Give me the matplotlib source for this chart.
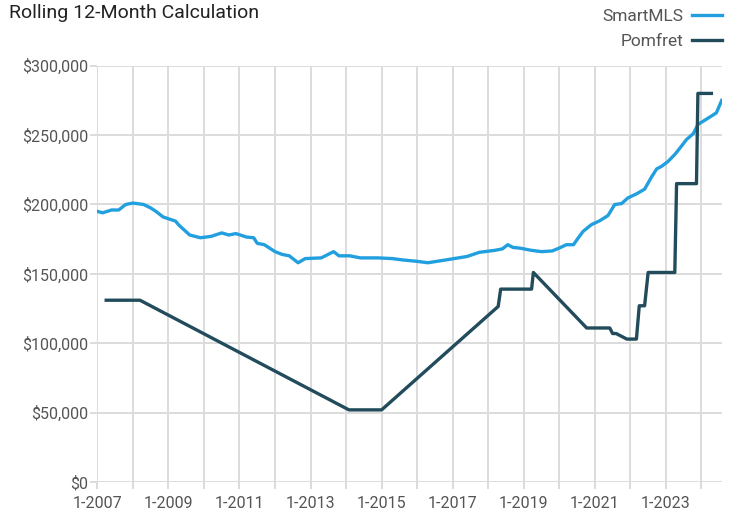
import matplotlib
matplotlib.use("Agg")
import matplotlib.pyplot as plt
from matplotlib.ticker import FuncFormatter, MultipleLocator

plt.rcParams['font.family'] = ['Roboto', 'DejaVu Sans']

# SmartMLS rolling 12-month median (decimal year, $ thousands)
smart_years = [2007.0, 2007.15, 2007.4, 2007.6, 2007.8, 2008.0, 2008.3, 2008.5, 2008.65, 2008.85,
               2009.2, 2009.3, 2009.6, 2009.9, 2010.2, 2010.5, 2010.7, 2010.9, 2011.2, 2011.4,
               2011.5, 2011.7, 2012.0, 2012.2, 2012.4, 2012.65, 2012.85, 2013.3, 2013.65, 2013.8,
               2014.1, 2014.4, 2014.9, 2015.3, 2015.6, 2016.0, 2016.3, 2016.8, 2017.4, 2017.75,
               2018.2, 2018.4, 2018.55, 2018.7, 2018.9, 2019.2, 2019.5, 2019.8, 2020.0, 2020.2,
               2020.4, 2020.53, 2020.67, 2020.9, 2021.14, 2021.37, 2021.56, 2021.75, 2021.93, 2022.17,
               2022.4, 2022.6, 2022.74, 2022.88, 2023.06, 2023.25, 2023.4, 2023.58, 2023.77, 2023.9,
               2024.05, 2024.2, 2024.42, 2024.57]
smart_vals = [195, 194, 196, 196, 200, 201, 200, 197.5, 195, 191,
              188, 185, 178, 176, 177, 179.5, 178, 179, 176.5, 176,
              172, 171, 166, 164, 163, 158, 161, 161.5, 166, 163,
              163, 161.5, 161.5, 161, 160, 159, 158, 160, 162.5, 165.5,
              167, 168, 171, 169, 168.5, 167, 166, 166.5, 168.6, 171,
              171, 175.8, 180.6, 185.4, 188.3, 192, 200, 200.6, 204.7, 207.6,
              211, 220, 225.6, 227.5, 231, 236, 240.8, 246.8, 251, 257.6,
              260, 262.4, 266, 275]

# Pomfret rolling 12-month median
pom_years = [2007.25, 2008.2, 2014.08, 2015.0, 2018.28, 2018.35, 2019.22, 2019.27, 2020.77, 2021.42,
             2021.5, 2021.6, 2021.9, 2022.17, 2022.25, 2022.4, 2022.5, 2023.25, 2023.3, 2023.86,
             2023.9, 2024.28]
pom_vals = [131, 131, 52, 52, 126.5, 139, 139, 151, 111, 111,
            107, 107, 103, 103, 127, 127, 151, 151, 215, 215,
            280, 280]

fig = plt.figure(figsize=(7.29, 5.15), dpi=100)
ax = fig.add_axes([0.1335, 0.064, 0.8565, 0.8085])

ax.plot(smart_years, [v * 1000 for v in smart_vals], color='#229fdf', lw=2.4, label='SmartMLS',
        solid_joinstyle='round', zorder=3)
ax.plot(pom_years, [v * 1000 for v in pom_vals], color='#224b5b', lw=2.4, label='Pomfret',
        solid_joinstyle='round', zorder=3)

ax.set_xlim(2007.0, 2024.57)
ax.set_ylim(0, 300000)
ax.xaxis.set_major_locator(MultipleLocator(1))
ax.xaxis.set_major_formatter(FuncFormatter(
    lambda x, p: '1-%d' % round(x) if round(x) % 2 == 1 else ''))
ax.yaxis.set_major_locator(MultipleLocator(50000))
ax.yaxis.set_major_formatter(FuncFormatter(lambda y, p: '${:,.0f}'.format(y)))

ax.grid(True, color='#dcdcdc', lw=1.4)
ax.set_axisbelow(True)
for s in ax.spines.values():
    s.set_visible(False)
ax.tick_params(axis='both', length=5, width=1.4, color='#dcdcdc',
               labelsize=11.5, labelcolor='#555555')
ax.tick_params(axis='x', pad=5)
ax.tick_params(axis='y', pad=1.5)

fig.legend(loc='upper right', bbox_to_anchor=(722 / 729, 1 - 9 / 515), frameon=False,
           markerfirst=False, fontsize=12.5, handlelength=1.75, handletextpad=0.5,
           labelspacing=0.55, borderaxespad=0, borderpad=0, labelcolor='#555555')

fig.text(0.012, 0.993, 'Rolling 12-Month Calculation', fontsize=14, color='#222222',
         va='top', ha='left')

fig.savefig('out.png', dpi=100)
